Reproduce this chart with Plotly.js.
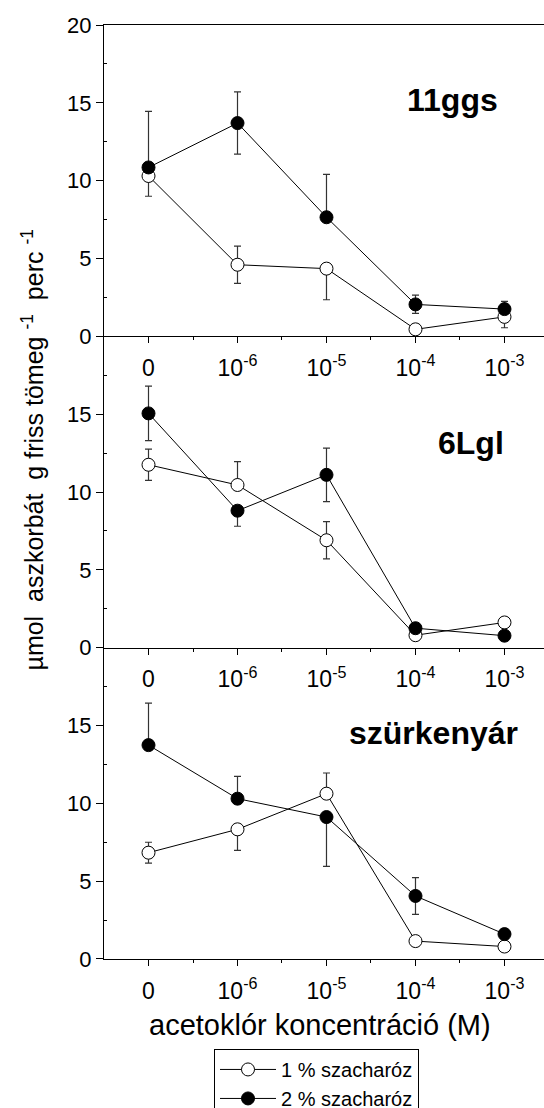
<!DOCTYPE html>
<html><head><meta charset="utf-8">
<script src="https://cdn.plot.ly/plotly-3.0.1.min.js"></script>
<style>html,body{margin:0;padding:0;overflow:hidden;background:#fff}</style>
</head><body><div id="chart" style="width:544px;height:1124px"></div>
<script>
const concentrations = ['0','10<sup>-6</sup>','10<sup>-5</sup>','10<sup>-4</sup>','10<sup>-3</sup>'];
const cultivars = ['11ggs','6Lgl','szürkenyár'];
const seriesNames = ['1 % szacharóz','2 % szacharóz'];
// 11ggs
const ggs_1 = [10.3, 4.6, 4.35, 0.45, 1.25];
const ggs_1_errUp = [0, 1.2, 0, 0.15, 0];
const ggs_1_errDown = [1.3, 1.2, 2.0, 0.15, 0.7];
const ggs_2 = [10.85, 13.7, 7.65, 2.05, 1.75];
const ggs_2_errUp = [3.6, 2.0, 2.75, 0.6, 0.5];
const ggs_2_errDown = [0, 2.0, 0, 0.57, 0];
// 6Lgl
const lgl_1 = [11.75, 10.45, 6.9, 0.8, 1.62];
const lgl_1_errUp = [1.0, 1.5, 1.2, 0.2, 0.2];
const lgl_1_errDown = [1.0, 0, 1.2, 0.2, 0.2];
const lgl_2 = [15.05, 8.8, 11.1, 1.25, 0.77];
const lgl_2_errUp = [1.75, 0, 1.72, 0.2, 0];
const lgl_2_errDown = [1.75, 1.0, 1.72, 0.2, 0.3];
// szürkenyár
const szn_1 = [6.83, 8.33, 10.62, 1.15, 0.8];
const szn_1_errUp = [0.67, 0, 1.33, 0.15, 0];
const szn_1_errDown = [0.67, 1.35, 0, 0.15, 0.3];
const szn_2 = [13.74, 10.3, 9.12, 4.05, 1.6];
const szn_2_errUp = [2.7, 1.43, 0, 1.18, 0.2];
const szn_2_errDown = [0, 0, 3.17, 1.18, 0];

const panels = [
  {open: ggs_1, oUp: ggs_1_errUp, oDn: ggs_1_errDown, filled: ggs_2, fUp: ggs_2_errUp, fDn: ggs_2_errDown},
  {open: lgl_1, oUp: lgl_1_errUp, oDn: lgl_1_errDown, filled: lgl_2, fUp: lgl_2_errUp, fDn: lgl_2_errDown},
  {open: szn_1, oUp: szn_1_errUp, oDn: szn_1_errDown, filled: szn_2, fUp: szn_2_errUp, fDn: szn_2_errDown}
];
const xpos = concentrations.map((_, i) => i + 1);
const FONT = 'Liberation Sans, Arial, Helvetica, sans-serif';

const traces = [];
panels.forEach((p, k) => {
  const xa = k === 0 ? 'x' : 'x' + (k + 1);
  const ya = k === 0 ? 'y' : 'y' + (k + 1);
  traces.push({
    x: xpos, y: p.open, name: seriesNames[0], xaxis: xa, yaxis: ya,
    type: 'scatter', mode: 'lines+markers', showlegend: k === 0, legendgroup: 'a',
    line: {color: '#000', width: 1},
    marker: {symbol: 'circle', size: 13, color: '#fff', line: {color: '#000', width: 1}},
    error_y: {type: 'data', symmetric: false, array: p.oUp, arrayminus: p.oDn, visible: true, color: '#333', thickness: 1.2, width: 3.5}
  });
  traces.push({
    x: xpos, y: p.filled, name: seriesNames[1], xaxis: xa, yaxis: ya,
    type: 'scatter', mode: 'lines+markers', showlegend: k === 0, legendgroup: 'b',
    line: {color: '#000', width: 1},
    marker: {symbol: 'circle', size: 13, color: '#000', line: {color: '#000', width: 1}},
    error_y: {type: 'data', symmetric: false, array: p.fUp, arrayminus: p.fDn, visible: true, color: '#333', thickness: 1.2, width: 3.5}
  });
});

const domains = [[2/3, 1], [1/3, 2/3], [0, 1/3]];
const layout = {
  width: 544, height: 1124,
  margin: {l: 104, r: 0, t: 25, b: 165, autoexpand: false},
  paper_bgcolor: '#fff', plot_bgcolor: '#fff',
  font: {family: FONT, color: '#000'},
  showlegend: true,
  legend: {
    x: 0.25, y: -0.0963, xanchor: 'left', yanchor: 'top',
    bordercolor: '#000', borderwidth: 1, bgcolor: '#fff',
    font: {size: 20, family: FONT}, itemwidth: 56, tracegroupgap: 0, traceorder: 'normal'
  },
  annotations: []
};

domains.forEach((d, k) => {
  const sx = k === 0 ? '' : String(k + 1);
  layout['xaxis' + sx] = {
    range: [0.5, 5.444], tickvals: xpos, ticktext: concentrations,
    anchor: 'y' + sx, showline: true, linecolor: '#000', linewidth: 1,
    mirror: k === 0, ticks: 'outside', ticklen: 6, tickwidth: 1, tickcolor: '#000',
    showgrid: false, zeroline: false, ticklabelstandoff: 5,
    tickfont: {size: 23, family: FONT, weight: 'normal', color: '#000'},
    minor: {tickvals: [1.5, 2.5, 3.5, 4.5], ticks: 'outside', ticklen: 3, tickcolor: '#000', showgrid: false}
  };
  layout['yaxis' + sx] = {
    domain: d, range: [0, 20], anchor: 'x' + sx,
    tickvals: k === 0 ? [0, 5, 10, 15, 20] : [0, 5, 10, 15],
    showline: true, linecolor: '#000', linewidth: 1,
    ticks: 'outside', ticklen: 7, tickwidth: 1, tickcolor: '#000',
    showgrid: false, zeroline: false,
    tickfont: {size: 22, family: FONT, weight: 'normal', color: '#000'},
    minor: {tickvals: [2.5, 7.5, 12.5, 17.5], ticks: 'inside', ticklen: 3, tickcolor: '#000', showgrid: false}
  };
});

const labelPos = [[0.793, 0.9197], [0.834, 0.5521], [0.7495, 0.2416]];
cultivars.forEach((c, k) => {
  layout.annotations.push({
    text: '<b>' + c + '</b>', xref: 'paper', yref: 'paper',
    x: labelPos[k][0], y: labelPos[k][1], xanchor: 'center', yanchor: 'middle',
    showarrow: false, font: {size: 32, family: FONT, color: '#000'}
  });
});
layout.annotations.push({
  text: 'µmol\u00a0\u00a0aszkorbát\u00a0\u00a0g friss tömeg <sup>-1</sup>\u00a0\u00a0perc <sup>-1</sup>',
  xref: 'paper', yref: 'paper', x: -0.1636, y: 0.5455, xanchor: 'center', yanchor: 'middle',
  textangle: -90, showarrow: false, font: {size: 25, family: FONT, color: '#000'}
});
layout.annotations.push({
  text: 'acetoklór koncentráció (M)',
  xref: 'paper', yref: 'paper', x: 0.490, y: -0.0707, xanchor: 'center', yanchor: 'middle',
  showarrow: false, font: {size: 29, family: FONT, color: '#000'}
});

Plotly.newPlot('chart', traces, layout, {displayModeBar: false, staticPlot: true});
</script></body></html>
